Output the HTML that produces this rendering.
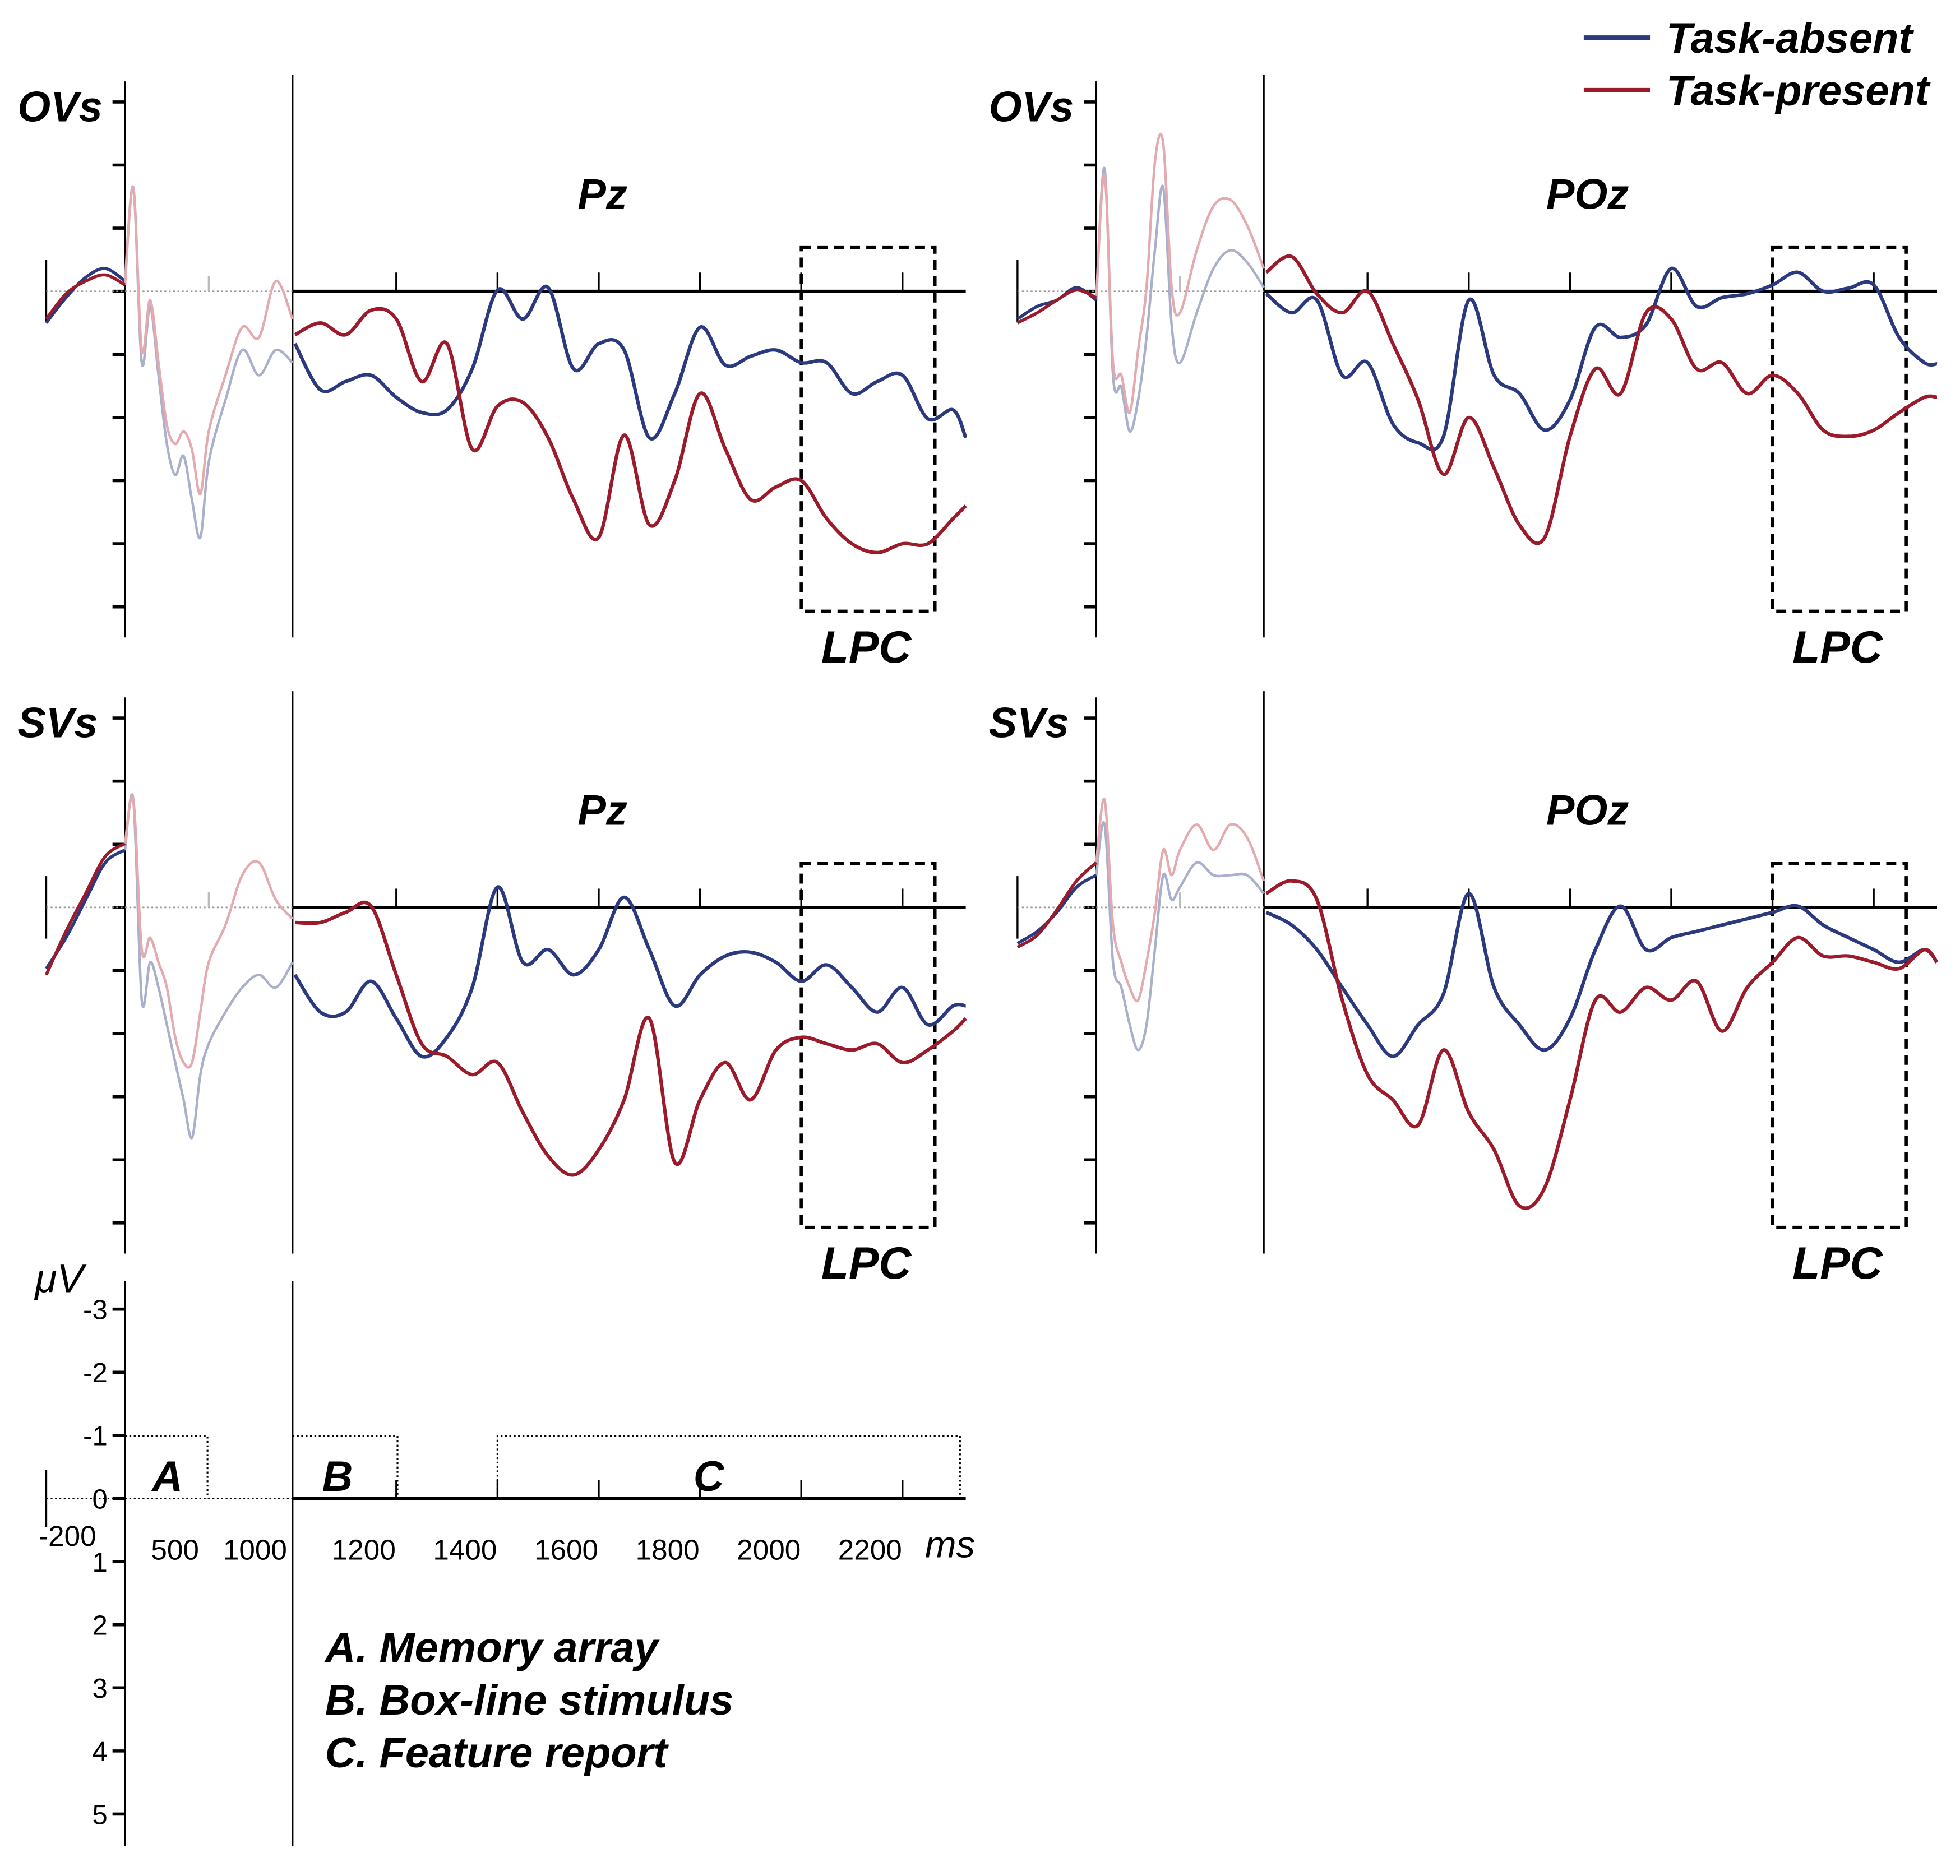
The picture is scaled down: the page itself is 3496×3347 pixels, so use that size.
<!DOCTYPE html>
<html><head><meta charset="utf-8">
<style>
html,body{margin:0;padding:0;background:#fff;}
svg{display:block;}
text{font-family:"Liberation Sans",sans-serif;}
.lab{font-weight:bold;font-style:italic;}
</style></head>
<body>
<svg id="chart" width="3496" height="3347" viewBox="0 0 1568 1501" xmlns="http://www.w3.org/2000/svg">
<rect width="1568" height="1501" fill="#fff"/>
<g id="static"></g>
</svg>
<script>
// ---- data ----
const mainTimes = [1000,1050,1100,1150,1200,1250,1300,1350,1400,1450,1500,1550,1600,1650,1700,1750,1800,1850,1900,1950,2000,2050,2100,2150,2200,2250,2300,2325];
const preTimes = [-200,-150,-100,-50,0,50,100,150,200,250,300,350,400,450,500,600,700,800,900,1000];

const ovsPzAbsent = [0.83,1.56,1.43,1.33,1.68,1.92,1.88,1.23,-0.02,0.44,-0.06,1.23,0.83,0.93,2.32,1.62,0.57,1.17,1.03,0.93,1.13,1.13,1.62,1.43,1.33,2.02,1.88,2.32];
const ovsPzPresent = [0.69,0.5,0.69,0.3,0.44,1.43,0.83,2.5,1.82,1.76,2.32,3.3,3.9,2.28,3.7,3.0,1.62,2.5,3.3,3.1,3.0,3.6,4.0,4.14,4.0,4.0,3.6,3.4];
const ovsPozAbsent = [0.04,0.34,0.14,1.33,1.13,2.1,2.4,2.3,0.14,1.33,1.62,2.2,1.72,0.57,0.73,0.53,-0.36,0.24,0.1,0.04,-0.1,-0.3,0,-0.05,-0.1,0.73,1.13,1.15];
const ovsPozPresent = [-0.3,-0.55,0.04,0.34,0,0.83,1.72,2.9,2.0,2.8,3.7,3.9,2.3,1.23,1.62,0.34,0.44,1.23,1.13,1.62,1.33,1.62,2.2,2.3,2.2,1.92,1.68,1.68];
const svsPzAbsent = [1.07,1.66,1.66,1.17,1.76,2.36,2.06,1.27,-0.32,0.87,0.67,1.07,0.67,-0.16,0.67,1.56,1.07,0.77,0.71,0.87,1.17,0.91,1.27,1.66,1.27,1.86,1.56,1.56];
const svsPzPresent = [0.24,0.24,0.08,-0.02,1.07,2.16,2.36,2.65,2.46,3.25,3.94,4.24,3.84,3.05,1.76,4.04,3.05,2.46,3.05,2.26,2.06,2.16,2.26,2.16,2.46,2.26,1.96,1.76];
const svsPozAbsent = [0.08,0.28,0.67,1.27,1.86,2.36,1.86,1.37,-0.22,1.27,1.86,2.26,1.76,0.67,-0.02,0.67,0.48,0.38,0.28,0.18,0.08,-0.02,0.28,0.48,0.67,0.87,0.67,0.87];
const svsPozPresent = [-0.22,-0.42,-0.12,1.47,2.65,3.05,3.45,2.26,3.25,3.84,4.73,4.44,3.05,1.47,1.66,1.27,1.47,1.17,1.96,1.27,0.87,0.48,0.77,0.77,0.87,0.97,0.67,0.87];

const ovsPzPreAbsent = [0.5,0.1,-0.22,-0.36,-0.16,-1.64,1.13,0.24,1.33,2.42,2.91,2.61,3.31,3.9,2.71,1.72,0.93,1.33,0.93,1.13];
const ovsPzPrePresent = [0.44,0.04,-0.16,-0.26,-0.1,-1.64,0.93,0.14,1.13,2.12,2.42,2.22,2.51,3.21,2.22,1.33,0.57,0.73,-0.16,0.44];
const ovsPozPreAbsent = [0.44,0.24,0.14,-0.06,0.14,-1.94,1.33,1.52,2.22,1.72,0.73,-0.65,-1.64,0.53,1.13,0.34,-0.36,-0.65,-0.46,-0.06];
const ovsPozPrePresent = [0.5,0.34,0.14,-0.02,0.1,-1.84,1.13,1.33,1.92,0.93,-0.06,-2.04,-2.34,-0.06,0.34,-0.65,-1.35,-1.45,-1.05,-0.36];
const svsPzPreAbsent = [0.97,0.48,-0.12,-0.71,-0.91,-1.7,1.47,0.87,1.27,1.86,2.46,3.05,3.65,2.65,2.16,1.66,1.27,1.07,1.27,0.87];
const svsPzPrePresent = [1.07,0.38,-0.22,-0.81,-1.01,-1.7,0.67,0.48,0.87,1.27,2.06,2.46,2.46,1.66,0.87,0.28,-0.51,-0.71,-0.12,0.18];
const svsPozPreAbsent = [0.57,0.38,0.08,-0.32,-0.51,-1.31,0.87,1.27,1.86,2.26,1.86,0.67,-0.51,-0.12,-0.32,-0.71,-0.51,-0.51,-0.51,-0.22];
const svsPozPrePresent = [0.63,0.44,0.04,-0.42,-0.71,-1.7,0.28,0.87,1.27,1.47,0.87,0.08,-0.91,-0.51,-0.91,-1.31,-0.91,-1.31,-1.11,-0.42];

const scaleTickLabels = ["-3","-2","-1","0","1","2","3","4","5"];
const mainTickTimes = [1200,1400,1600,1800,2000,2200];
const xTickLabels = ["1200","1400","1600","1800","2000","2200"];

// ---- drawing ----
const NS="http://www.w3.org/2000/svg";
const root=document.getElementById('static');
const BLUE="#2b3a7e", RED="#9b1b2a", BLUEF="#aab0cc", REDF="#e3aab0";
const UV=50.5;
function mk(tag,attrs,parent){const e=document.createElementNS(NS,tag);for(const k in attrs)e.setAttribute(k,attrs[k]);(parent||root).appendChild(e);return e;}
function txt(x,y,s,size,extra,parent){const t=mk('text',Object.assign({x:x,y:y,'font-size':size},extra||{}),parent);t.textContent=s;return t;}
function smooth(pts){let d='M'+pts[0][0].toFixed(1)+','+pts[0][1].toFixed(1);
 for(let i=0;i<pts.length-1;i++){const p0=pts[Math.max(0,i-1)],p1=pts[i],p2=pts[i+1],p3=pts[Math.min(pts.length-1,i+2)];
 const c1=[p1[0]+(p2[0]-p0[0])/6,p1[1]+(p2[1]-p0[1])/6],c2=[p2[0]-(p3[0]-p1[0])/6,p2[1]-(p3[1]-p1[1])/6];
 d+='C'+c1[0].toFixed(1)+','+c1[1].toFixed(1)+' '+c2[0].toFixed(1)+','+c2[1].toFixed(1)+' '+p2[0].toFixed(1)+','+p2[1].toFixed(1);}
 return d;}

function panel(cfg){
 const g=mk('g',{});
 
 
 const ax=cfg.ax, z=cfg.zero, bx=ax-63, mx=ax+134+2;
 const yS=v=>z+v*UV;
 const xMain=t=>mx+(t-1000)*0.405;
 const xPre=t=>t<0?bx+(t+200)*0.315:ax+t*0.134;
 // y-axis
 let a=mk('line',{x1:ax,y1:z-168,x2:ax,y2:z+277,stroke:'#000','stroke-width':1.5},g);
 
 for(let v=-3;v<=5;v++){const tk=mk('line',{x1:ax-10,y1:yS(v),x2:ax,y2:yS(v),stroke:'#000','stroke-width':2.5},g);
  }
 // divider
 mk('line',{x1:ax+134,y1:z-173,x2:ax+134,y2:z+277,stroke:'#000','stroke-width':1.5},g);
 // baseline small axis
 mk('line',{x1:bx,y1:z-25,x2:bx,y2:z+25,stroke:'#000','stroke-width':1.5},g);
 mk('line',{x1:bx,y1:z,x2:ax+134,y2:z,stroke:'#999','stroke-width':1.2,'stroke-dasharray':'1.5,2'},g);
 mk('line',{x1:xPre(500),y1:z,x2:xPre(500),y2:z-12,stroke:'#bbb','stroke-width':1.5},g);
 // main zero line
 mk('line',{x1:ax+134,y1:z,x2:xMain(2325),y2:z,stroke:'#000','stroke-width':2.5},g);
 mainTickTimes.forEach(t=>{const tk=mk('line',{x1:xMain(t),y1:z,x2:xMain(t),y2:z-15,stroke:'#000','stroke-width':1.5},g);
  });
 // LPC box
 const bxL=xMain(2000);
 const b=mk('rect',{x:bxL,y:z-35,width:107,height:291,fill:'none',stroke:'#000','stroke-width':2.5,'stroke-dasharray':'8,5'},g);
 
 const lt=txt(bxL+52,z+297,'LPC',36,{'text-anchor':'middle',class:'lab'},g);
 
 const et=txt(cfg.elecX,z-66,cfg.elec,34,{'text-anchor':'middle',class:'lab'},g);
 
 const ct=txt(ax-86,z-136,cfg.cond,34,{class:'lab'},g);
 
 // pre curves (faded memory period, solid baseline)
 [[cfg.preAbs,BLUE,BLUEF,'task-absent'],[cfg.prePres,RED,REDF,'task-present']].forEach(([vals,c,cf,n])=>{
  const pts=preTimes.map((t,i)=>[xPre(t),yS(vals[i])]);
  const i0=preTimes.indexOf(0);
  const pf=mk('path',{d:smooth(pts.slice(i0)),fill:'none',stroke:cf,'stroke-width':2},g);
  
  const pb=mk('path',{d:smooth(pts.slice(0,i0+1)),fill:'none',stroke:c,'stroke-width':2.5},g);
  
 });
 [[cfg.abs,BLUE,'task-absent-line'],[cfg.pres,RED,'task-present-line']].forEach(([vals,c,n])=>{
  const pts=mainTimes.map((t,i)=>[xMain(t),yS(vals[i])]);
  const p=mk('path',{d:smooth(pts),fill:'none',stroke:c,'stroke-width':2.8},g);
  
 });
}
panel({name:'ovs-pz-panel',ax:100,zero:233,elec:'Pz',elecX:482,cond:'OVs',abs:ovsPzAbsent,pres:ovsPzPresent,preAbs:ovsPzPreAbsent,prePres:ovsPzPrePresent});
panel({name:'ovs-poz-panel',ax:877,zero:233,elec:'POz',elecX:1270,cond:'OVs',abs:ovsPozAbsent,pres:ovsPozPresent,preAbs:ovsPozPreAbsent,prePres:ovsPozPrePresent});
panel({name:'svs-pz-panel',ax:100,zero:726,elec:'Pz',elecX:482,cond:'SVs',abs:svsPzAbsent,pres:svsPzPresent,preAbs:svsPzPreAbsent,prePres:svsPzPrePresent});
panel({name:'svs-poz-panel',ax:877,zero:726,elec:'POz',elecX:1270,cond:'SVs',abs:svsPozAbsent,pres:svsPozPresent,preAbs:svsPozPreAbsent,prePres:svsPozPrePresent});

// ---- scale panel ----
(function(){
 const g=mk('g',{});
 
 const z=1199, yS=v=>z+v*UV;
 const xMain=t=>236+(t-1000)*0.405;
 mk('line',{x1:100,y1:1025,x2:100,y2:1477,stroke:'#000','stroke-width':1.5},g);
 mk('line',{x1:234,y1:1025,x2:234,y2:1477,stroke:'#000','stroke-width':1.5},g);
 scaleTickLabels.forEach((s,i)=>{const v=i-3;
  const tk=mk('line',{x1:90,y1:yS(v),x2:100,y2:yS(v),stroke:'#000','stroke-width':2.5},g);
  
  const t=txt(86,yS(v)+8,s,22,{'text-anchor':'end','font-family':'Liberation Serif, serif'},g);
  });
 const u=txt(28,1034,'μV',32,{'font-style':'italic','font-family':'Liberation Serif, serif'},g);
 
 mk('line',{x1:37,y1:1176,x2:37,y2:1222,stroke:'#000','stroke-width':1.5},g);
 mk('line',{x1:37,y1:z,x2:234,y2:z,stroke:'#000','stroke-width':1.3,'stroke-dasharray':'1.5,2'},g);
 mk('line',{x1:234,y1:z,x2:xMain(2325),y2:z,stroke:'#000','stroke-width':2.5},g);
 mainTickTimes.forEach(t=>mk('line',{x1:xMain(t),y1:z,x2:xMain(t),y2:z-15,stroke:'#000','stroke-width':1.5},g));
 const dot={fill:'none',stroke:'#000','stroke-width':1.4,'stroke-dasharray':'1.5,2'};
 mk('path',Object.assign({d:'M100,1149H166V1199'},dot),g);
 mk('path',Object.assign({d:'M234,1149H318V1199'},dot),g);
 mk('path',Object.assign({d:'M398,1199V1149H768V1199'},dot),g);
 [['A',134],['B',270],['C',567]].forEach(([s,x])=>{const t=txt(x,1193,s,34,{'text-anchor':'middle',class:'lab'},g);
  });
 const sty={'text-anchor':'middle','font-family':'Liberation Serif, serif'};
 [['-200',54],['500',140],['1000',204]].forEach(([s,x])=>{const t=txt(x,s==='-200'?1237:1248,s,23,sty,g);
  });
 xTickLabels.forEach((s,i)=>{const t=txt(xMain(mainTickTimes[i])-26,1248,s,23,sty,g);
  });
 const ms=txt(760,1246,'ms',30,{'text-anchor':'middle','font-style':'italic','font-family':'Liberation Serif, serif'},g);
 
 [['A. Memory array',1330],['B. Box-line stimulus',1372],['C. Feature report',1414]].forEach(([s,y])=>{
  const t=txt(260,y,s,34,{class:'lab'},g);
  });
})();

// ---- legend ----
(function(){
 const g=mk('g',{});
 
 [['Task-absent',BLUE,30],['Task-present',RED,72]].forEach(([s,c,y])=>{
  const e=mk('g',{},g);
  
  mk('line',{x1:1267,y1:y,x2:1320,y2:y,stroke:c,'stroke-width':3.5},e);
  txt(1333,y+12,s,34,{class:'lab'},e);
 });
})();
</script>
</body></html>
